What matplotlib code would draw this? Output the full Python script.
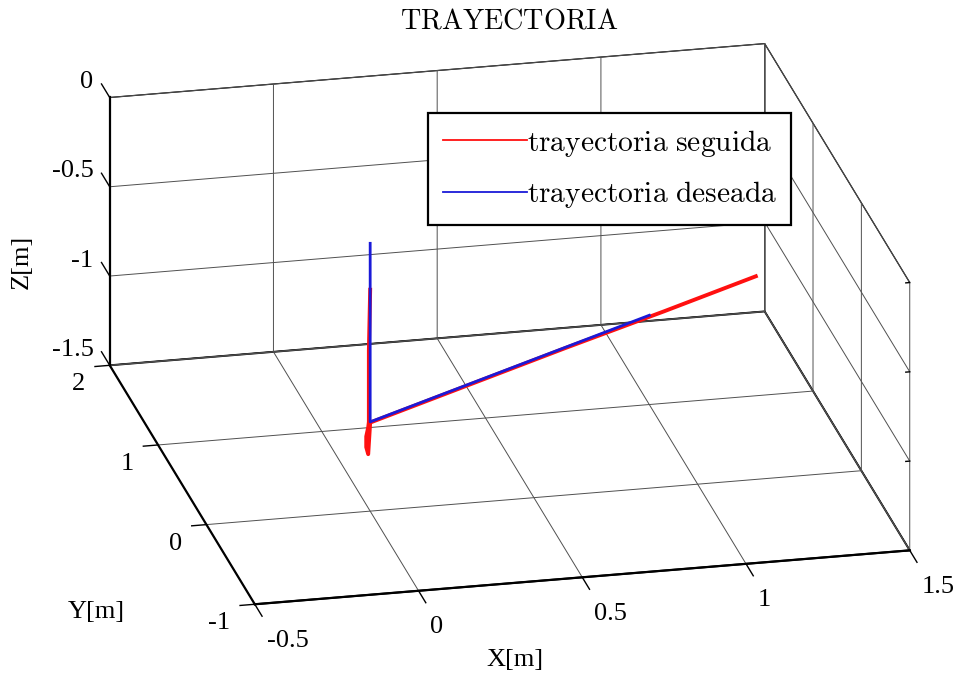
import numpy as np
import matplotlib
matplotlib.use('Agg')
import matplotlib.pyplot as plt
from matplotlib.ticker import NullFormatter

# ---------------- data ----------------
x_ticks = [-0.5, 0, 0.5, 1, 1.5]
x_tick_labels = ['-0.5', '0', '0.5', '1', '1.5']
y_ticks = [-1, 0, 1, 2]
y_tick_labels = ['-1', '0', '1', '2']
z_ticks = [-1.5, -1, -0.5, 0]
z_tick_labels = ['-1.5', '-1', '-0.5', '0']

# followed trajectory (red)
seguida_x = [0.0, -0.004, -0.004, -0.006, -0.012, -0.012, -0.006, 0.0, 0.35, 0.70, 1.05, 1.38]
seguida_y = [0.0, 0.0, 0.0, 0.0, 0.0, 0.0, 0.0, 0.0, 0.35, 0.70, 1.04, 1.37]
seguida_z = [-0.26, -0.60, -1.00, -1.03, -1.08, -1.14, -1.18, -1.004, -1.004, -1.004, -1.004, -1.004]

# desired trajectory (blue)
deseada_x = [0.0, 0.0, 1.0]
deseada_y = [0.0, 0.0, 1.0]
deseada_z = [0.0, -1.0, -1.0]

labels = [r'$\mathrm{trayectoria\ seguida}$', r'$\mathrm{trayectoria\ deseada}$']
title = r'$\mathrm{TRAYECTORIA}$'

# ---------------- style ----------------
plt.rcParams['font.family'] = ['Liberation Serif', 'DejaVu Serif']
plt.rcParams['mathtext.fontset'] = 'cm'
plt.rcParams['grid.color'] = '#505050'
plt.rcParams['grid.linewidth'] = 0.7

W, H = 961, 675
fig = plt.figure(figsize=(W / 100, H / 100), dpi=100)
ax = fig.add_axes([0, 0, 1, 1], projection='3d', computed_zorder=False)
ax.set_proj_type('ortho')
ax.view_init(elev=21.6, azim=-102.6)
ax.set_box_aspect((671, 665, 288))
xmin, xmax = -0.5, 1.5
ymin, ymax = -1, 2
zmin, zmax = -1.5, 0
ax.set_xlim(xmin, xmax)
ax.set_ylim(ymin, ymax)
ax.set_zlim(zmin, zmax)

ax.set_xticks(x_ticks)
ax.set_yticks(y_ticks)
ax.set_zticks(z_ticks)

for axis in (ax.xaxis, ax.yaxis, ax.zaxis):
    axis.set_major_formatter(NullFormatter())
    axis.set_tick_params(label1On=False, label2On=False)
    axis.set_pane_color((1, 1, 1, 1))
    axis.pane.set_edgecolor('black')
    axis.pane.set_linewidth(0.9)
    axis._axinfo['grid'].update(color='#505050', linewidth=0.7)
    axis._axinfo['tick']['inward_factor'] = 0.0
    axis._axinfo['tick']['outward_factor'] = 0.0
    axis.line.set_linewidth(1.6)
    axis.line.set_color('black')
ax.zaxis.pane.set_linewidth(1.4)   # floor edges a bit heavier

# MATLAB-style tick marks
tk = dict(color='black', lw=1.0, zorder=2)
for xv in x_ticks:
    ax.plot([xv, xv], [ymin, ymin - 0.15], [zmin, zmin], **tk)
for yv in y_ticks:
    ax.plot([xmin, xmin - 0.045], [yv, yv], [zmin, zmin], **tk)
for zv in z_ticks:
    ax.plot([xmin, xmin], [ymax, ymax + 0.17], [zv, zv], **tk)
for zv in z_ticks:
    ax.plot([xmax, xmax - 0.012], [ymin, ymin], [zv, zv], **tk)

l1, = ax.plot(seguida_x, seguida_y, seguida_z, color='#ff1010', lw=2.8, zorder=3, label=labels[0])
l2, = ax.plot(deseada_x, deseada_y, deseada_z, color='#1a1ad8', lw=2.0, zorder=4, label=labels[1])

leg = ax.legend(handles=[l1, l2], loc='upper left', bbox_to_anchor=(428 / W, 1 - 113 / H),
                bbox_transform=fig.transFigure, borderaxespad=0, fontsize=21.2,
                frameon=True, fancybox=False, framealpha=1, edgecolor='black',
                handlelength=2.85, handletextpad=0.0, borderpad=0.5, labelspacing=0.7)
leg.get_frame().set_linewidth(1.6)
for ln in leg.get_lines():
    ln.set_linewidth(1.3)

fs = 19
fig.suptitle(title, x=509 / W, y=1 - 22 / H, va='center', fontsize=20.3)
fig.text(515 / W, 1 - 660 / H, 'X[m]', ha='center', va='center', fontsize=fs)
fig.text(96 / W, 1 - 612 / H, 'Y[m]', ha='center', va='center', fontsize=fs)
fig.text(22 / W, 1 - 262 / H, 'Z[m]', ha='center', va='center', fontsize=fs, rotation=90)

# ---------------- layout calibration: place box corners ----------------
def project(pts):
    M = ax.get_proj()
    pts = np.atleast_2d(np.asarray(pts, float))
    P = np.column_stack([pts, np.ones(len(pts))]) @ M.T
    return ax.transData.transform(P[:, :2] / P[:, 3:4])

fig.canvas.draw()
corners = np.array([[xmin, ymin, zmin], [xmax, ymin, zmin], [xmin, ymax, zmin], [xmax, ymax, zmin],
                    [xmin, ymax, zmax], [xmax, ymax, zmax], [xmax, ymin, zmax]], float)
targets = np.array([[255, 605], [910, 550], [110, 365], [764, 313],
                    [110, 97], [764, 43], [910, 282]], float)
disp = project(corners)
tgt = np.column_stack([targets[:, 0], H - targets[:, 1]])
dm, tm = disp.mean(0), tgt.mean(0)
s = ((disp - dm) * (tgt - tm)).sum() / ((disp - dm) ** 2).sum()
t = tm - s * dm
bb = ax.get_position()
x0, y0, w, h = bb.x0 * W, bb.y0 * H, bb.width * W, bb.height * H
nx0, ny0 = t + s * np.array([x0, y0])
ax.set_position([nx0 / W, ny0 / H, s * w / W, s * h / H])
fig.canvas.draw()

# ---------------- tick labels (MATLAB placement) ----------------
for xv, lab in zip(x_ticks, x_tick_labels):
    px, py = project([xv - 0.03, ymin - 0.45, zmin])[0]
    fig.text(px / W, py / H, lab, ha='left', va='center', fontsize=fs)
for yv, lab in zip(y_ticks, y_tick_labels):
    px, py = project([xmin - 0.075, yv, zmin - 0.095])[0]
    fig.text(px / W, py / H, lab, ha='right', va='center', fontsize=fs)
for zv, lab in zip(z_ticks, z_tick_labels):
    px, py = project([xmin - 0.02, ymax + 0.2, zv])[0]
    fig.text(px / W, py / H, lab, ha='right', va='center', fontsize=fs)

fig.savefig('out.png', dpi=100)
